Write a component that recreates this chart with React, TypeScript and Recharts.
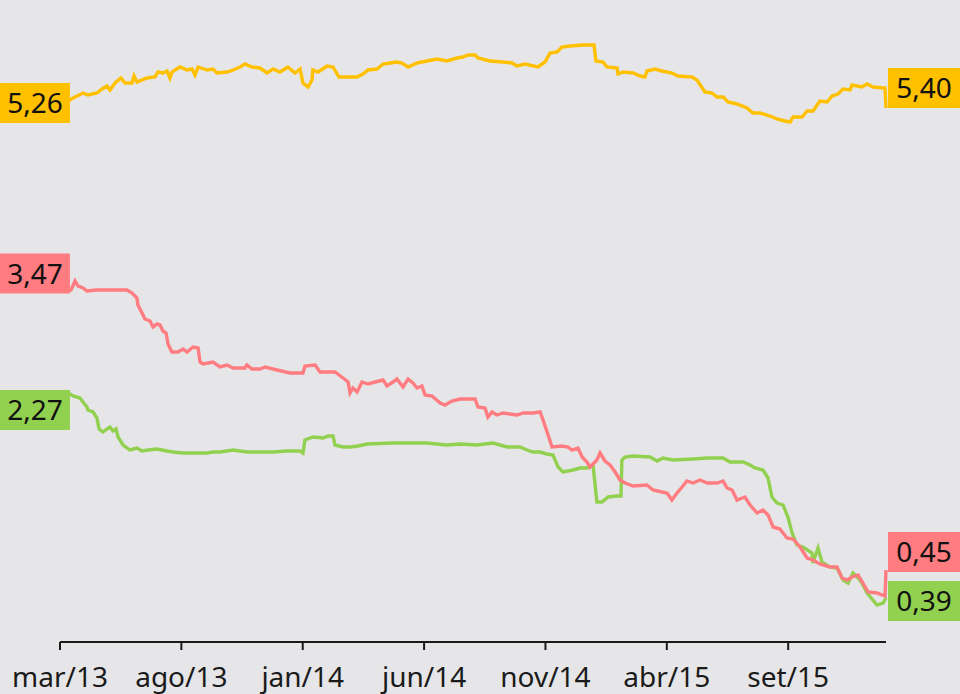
import React from 'react';
import { LineChart, Line, XAxis, YAxis } from 'recharts';

// x = months since mar/13, y = rate
const tickMonths = [0, 5, 10, 15, 20, 25, 30];
const tickLabels = ['mar/13', 'ago/13', 'jan/14', 'jun/14', 'nov/14', 'abr/15', 'set/15'];

const yellowEndLabels = ['5,26', '5,40'];
const redEndLabels = ['3,47', '0,45'];
const greenEndLabels = ['2,27', '0,39'];

const yellowSeries: [number, number][] = [
  [0.08, 5.29], [0.33, 5.29], [0.54, 5.32], [0.95, 5.37], [1.15, 5.35], [1.52, 5.37], [1.73, 5.41],
  [1.94, 5.44], [2.06, 5.40], [2.27, 5.47], [2.51, 5.52], [2.68, 5.47], [2.97, 5.47], [3.05, 5.54],
  [3.17, 5.48], [3.58, 5.52], [3.91, 5.53], [4.04, 5.58], [4.24, 5.57], [4.41, 5.59], [4.53, 5.52],
  [4.61, 5.58], [4.94, 5.63], [5.23, 5.60], [5.44, 5.61], [5.56, 5.55], [5.69, 5.63], [6.06, 5.60],
  [6.30, 5.61], [6.47, 5.57], [6.88, 5.58], [7.13, 5.60], [7.42, 5.63], [7.62, 5.66], [7.91, 5.63],
  [8.24, 5.62], [8.53, 5.57], [8.78, 5.61], [9.06, 5.58], [9.39, 5.63], [9.68, 5.57], [9.89, 5.61],
  [10.01, 5.47], [10.22, 5.43], [10.38, 5.50], [10.42, 5.60], [10.63, 5.58], [11.00, 5.64],
  [11.25, 5.63], [11.37, 5.58], [11.49, 5.53], [11.82, 5.53], [12.24, 5.53], [12.48, 5.56],
  [12.69, 5.60], [13.06, 5.61], [13.31, 5.66], [13.60, 5.67], [13.88, 5.68], [14.09, 5.67],
  [14.34, 5.63], [14.71, 5.67], [15.12, 5.69], [15.53, 5.71], [15.94, 5.69], [16.36, 5.72],
  [16.60, 5.73], [16.81, 5.75], [17.10, 5.75], [17.22, 5.72], [17.72, 5.69], [18.25, 5.68],
  [18.62, 5.67], [18.83, 5.64], [19.16, 5.66], [19.69, 5.63], [19.98, 5.68], [20.19, 5.77],
  [20.48, 5.78], [20.68, 5.83], [21.01, 5.84], [21.55, 5.85], [22.00, 5.85], [22.08, 5.69],
  [22.37, 5.68], [22.54, 5.63], [22.95, 5.62], [22.99, 5.56], [23.20, 5.58], [23.61, 5.57],
  [23.90, 5.54], [24.10, 5.53], [24.18, 5.59], [24.51, 5.61], [24.80, 5.59], [25.21, 5.57],
  [25.46, 5.54], [26.04, 5.53], [26.24, 5.50], [26.57, 5.38], [26.86, 5.37], [27.07, 5.33],
  [27.32, 5.33], [27.52, 5.28], [27.89, 5.26], [28.30, 5.22], [28.55, 5.17], [28.84, 5.17],
  [29.25, 5.14], [29.54, 5.11], [29.87, 5.09], [30.08, 5.08], [30.20, 5.13], [30.57, 5.13],
  [30.78, 5.19], [31.02, 5.19], [31.31, 5.29], [31.60, 5.28], [31.81, 5.34], [32.05, 5.36],
  [32.26, 5.41], [32.55, 5.40], [32.63, 5.45], [33.04, 5.43], [33.25, 5.46], [33.50, 5.43],
  [33.99, 5.42], [34.03, 5.22],
];

const redSeries: [number, number][] = [
  [0.08, 3.40], [0.45, 3.40], [0.62, 3.49], [0.74, 3.44], [0.95, 3.42], [1.11, 3.39], [1.52, 3.40],
  [2.76, 3.40], [2.97, 3.37], [3.17, 3.32], [3.21, 3.25], [3.38, 3.17], [3.50, 3.11], [3.71, 3.09],
  [3.83, 3.03], [4.00, 3.06], [4.12, 3.05], [4.24, 2.99], [4.37, 2.97], [4.45, 2.86], [4.61, 2.78],
  [4.86, 2.78], [5.07, 2.81], [5.23, 2.78], [5.48, 2.83], [5.69, 2.82], [5.77, 2.68], [5.89, 2.66],
  [6.30, 2.68], [6.59, 2.63], [6.88, 2.65], [7.13, 2.62], [7.62, 2.62], [7.70, 2.65], [7.91, 2.61],
  [8.24, 2.61], [8.45, 2.63], [8.94, 2.60], [9.48, 2.57], [10.01, 2.57], [10.09, 2.64], [10.51, 2.65],
  [10.71, 2.58], [11.33, 2.58], [11.66, 2.52], [11.87, 2.48], [11.95, 2.37], [12.07, 2.42],
  [12.24, 2.38], [12.44, 2.48], [12.69, 2.46], [12.98, 2.48], [13.31, 2.50], [13.47, 2.44],
  [13.72, 2.48], [13.88, 2.51], [14.13, 2.43], [14.34, 2.51], [14.54, 2.47], [14.71, 2.42],
  [14.91, 2.44], [15.04, 2.35], [15.33, 2.34], [15.66, 2.27], [15.86, 2.25], [16.15, 2.29],
  [16.48, 2.31], [17.10, 2.31], [17.22, 2.23], [17.51, 2.22], [17.63, 2.13], [17.80, 2.18],
  [18.00, 2.15], [18.25, 2.17], [18.83, 2.15], [19.08, 2.17], [19.49, 2.17], [19.78, 2.18],
  [19.90, 2.10], [20.11, 1.95], [20.27, 1.83], [20.68, 1.84], [20.93, 1.83], [21.09, 1.80],
  [21.34, 1.82], [21.51, 1.73], [21.71, 1.68], [21.84, 1.63], [22.12, 1.70], [22.25, 1.77],
  [22.45, 1.69], [22.66, 1.65], [22.87, 1.58], [23.07, 1.50], [23.28, 1.47], [23.61, 1.44],
  [24.18, 1.45], [24.43, 1.40], [24.80, 1.38], [25.01, 1.37], [25.21, 1.30], [25.42, 1.37],
  [25.63, 1.43], [25.83, 1.49], [26.08, 1.47], [26.37, 1.50], [26.66, 1.47], [27.07, 1.47],
  [27.32, 1.49], [27.48, 1.42], [27.69, 1.40], [27.89, 1.30], [28.22, 1.33], [28.43, 1.25],
  [28.72, 1.17], [28.96, 1.20], [29.17, 1.15], [29.38, 1.03], [29.66, 1.01], [29.95, 0.92],
  [30.20, 0.91], [30.49, 0.83], [30.78, 0.72], [31.02, 0.70], [31.31, 0.66], [31.72, 0.63],
  [32.01, 0.63], [32.22, 0.52], [32.42, 0.50], [32.63, 0.53], [32.88, 0.55], [33.08, 0.47],
  [33.29, 0.38], [33.66, 0.37], [33.99, 0.34], [34.03, 0.60],
];

const greenSeries: [number, number][] = [
  [0.08, 2.38], [0.33, 2.37], [0.54, 2.34], [0.82, 2.32], [0.95, 2.28], [1.11, 2.23], [1.15, 2.20],
  [1.36, 2.18], [1.52, 2.12], [1.61, 2.01], [1.77, 1.98], [1.94, 2.01], [2.06, 2.03], [2.18, 1.99],
  [2.31, 2.01], [2.39, 1.93], [2.60, 1.85], [2.88, 1.80], [3.17, 1.82], [3.38, 1.79], [3.63, 1.80],
  [4.00, 1.81], [4.41, 1.79], [4.66, 1.78], [5.07, 1.77], [5.48, 1.77], [6.06, 1.77], [6.30, 1.78],
  [6.59, 1.78], [7.13, 1.80], [7.70, 1.78], [8.24, 1.78], [8.78, 1.78], [9.35, 1.79], [9.89, 1.79],
  [10.01, 1.77], [10.09, 1.90], [10.42, 1.93], [10.84, 1.92], [11.04, 1.94], [11.25, 1.94],
  [11.33, 1.85], [11.66, 1.83], [11.95, 1.83], [12.28, 1.84], [12.65, 1.86], [13.72, 1.87],
  [15.12, 1.87], [15.53, 1.86], [15.94, 1.85], [16.48, 1.86], [17.18, 1.85], [17.84, 1.87],
  [18.13, 1.85], [18.42, 1.83], [18.95, 1.83], [19.24, 1.80], [19.49, 1.78], [19.78, 1.78],
  [20.06, 1.76], [20.31, 1.75], [20.52, 1.63], [20.72, 1.58], [21.14, 1.60], [21.42, 1.62],
  [21.71, 1.62], [21.96, 1.65], [22.12, 1.28], [22.33, 1.28], [22.58, 1.33], [22.95, 1.34],
  [23.11, 1.34], [23.15, 1.70], [23.28, 1.73], [23.61, 1.74], [24.31, 1.73], [24.60, 1.69],
  [24.84, 1.72], [25.26, 1.70], [26.08, 1.71], [26.66, 1.72], [27.32, 1.72], [27.60, 1.68],
  [28.14, 1.68], [28.43, 1.65], [28.63, 1.62], [28.96, 1.60], [29.17, 1.52], [29.33, 1.33],
  [29.54, 1.27], [29.79, 1.25], [29.99, 1.13], [30.16, 0.97], [30.36, 0.85], [30.61, 0.83],
  [30.98, 0.77], [31.02, 0.67], [31.23, 0.82], [31.39, 0.68], [31.72, 0.63], [32.01, 0.62],
  [32.26, 0.50], [32.47, 0.47], [32.67, 0.57], [32.88, 0.52], [33.04, 0.47], [33.25, 0.37],
  [33.66, 0.25], [33.91, 0.27], [34.03, 0.32],
];

const toRows = (s: [number, number][]) => s.map(([m, v]) => ({ m, v }));
const yellowRows = toRows(yellowSeries);
const redRows = toRows(redSeries);
const greenRows = toRows(greenSeries);

const FONT = '"Noto Sans", "DejaVu Sans", sans-serif';
const YELLOW = '#FFC000';
const RED = '#FF7C80';
const GREEN = '#92D050';

function endDot(count: number, texts: string[], fill: string, leftShift: number, rightShift: number) {
  return (p: any) => {
    const { cx, cy, index } = p;
    if (index !== 0 && index !== count - 1) return <g key={`d-${index}`} />;
    const isLeft = index === 0;
    const w = isLeft ? 70 : 72;
    const h = 40;
    const bx = isLeft ? cx + 8 - w : cx + 2;
    const c = cy + (isLeft ? leftShift : rightShift);
    return (
      <g key={`d-${index}`}>
        <rect x={bx} y={c - h / 2} width={w} height={h} fill={fill} />
        <text x={bx + w / 2} y={c + 10} textAnchor="middle" fontSize={28} fontFamily={FONT} fill="#111">
          {isLeft ? texts[0] : texts[1]}
        </text>
      </g>
    );
  };
}

export default function App() {
  return (
    <div style={{ width: 960, height: 694, background: '#E6E6E8' }}>
      <style>{`body{margin:0;background:#E6E6E8;}`}</style>
      <LineChart width={960} height={694} margin={{ top: 0, right: 74, bottom: 0, left: 60 }}>
        <XAxis
          type="number"
          dataKey="m"
          domain={[0, 34.03]}
          ticks={tickMonths}
          tickFormatter={(t: number) => tickLabels[tickMonths.indexOf(t)] ?? ''}
          height={52}
          tickSize={8}
          tickMargin={17}
          axisLine={{ stroke: '#1a1a1a', strokeWidth: 2 }}
          tickLine={{ stroke: '#1a1a1a', strokeWidth: 2 }}
          tick={{ fontSize: 28, fontFamily: FONT, fill: '#1a1a1a' }}
          interval={0}
        />
        <YAxis hide domain={[-0.12, 6.3]} type="number" />
        <Line
          data={greenRows}
          dataKey="v"
          stroke={GREEN}
          strokeWidth={3.4}
          isAnimationActive={false}
          dot={endDot(greenRows.length, greenEndLabels, GREEN, 18, 3)}
          activeDot={false}
          type="linear"
        />
        <Line
          data={redRows}
          dataKey="v"
          stroke={RED}
          strokeWidth={3.4}
          isAnimationActive={false}
          dot={endDot(redRows.length, redEndLabels, RED, -16.5, -18)}
          activeDot={false}
          type="linear"
        />
        <Line
          data={yellowRows}
          dataKey="v"
          stroke={YELLOW}
          strokeWidth={3.4}
          isAnimationActive={false}
          dot={endDot(yellowRows.length, yellowEndLabels, YELLOW, 2, -20)}
          activeDot={false}
          type="linear"
        />
      </LineChart>
    </div>
  );
}
